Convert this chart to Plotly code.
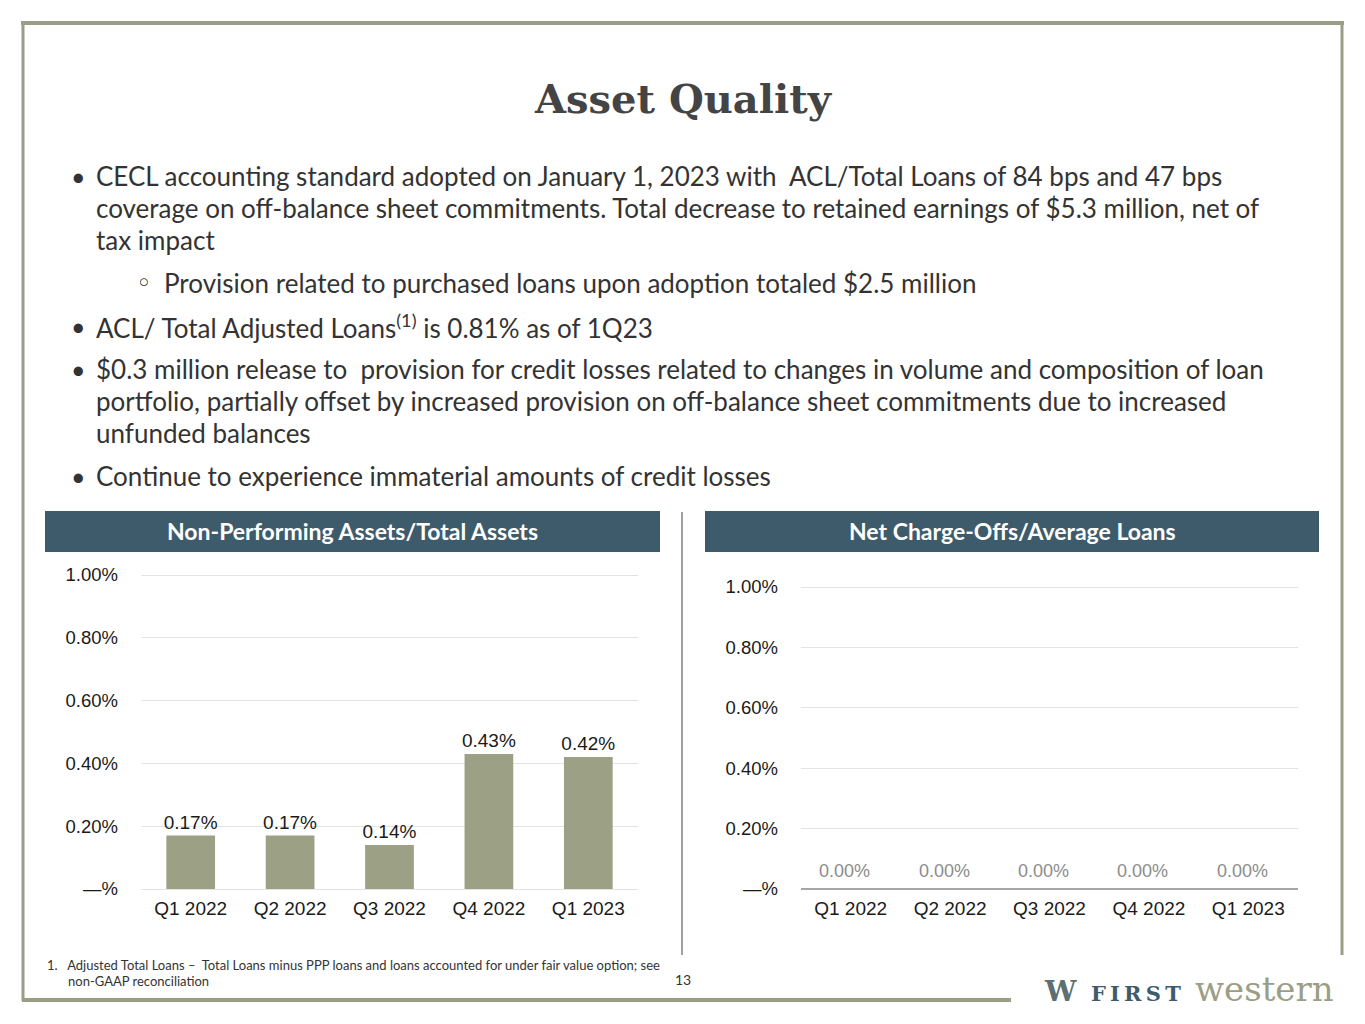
import plotly.graph_objects as go

# page size
W, H = 1365, 1024

categories = ["Q1 2022", "Q2 2022", "Q3 2022", "Q4 2022", "Q1 2023"]
npa_pct = [0.17, 0.17, 0.14, 0.43, 0.42]
nco_pct = [0.00, 0.00, 0.00, 0.00, 0.00]
y_ticks = [0, 0.2, 0.4, 0.6, 0.8, 1.0]
y_tick_text = ["—%", "0.20%", "0.40%", "0.60%", "0.80%", "1.00%"]

title = "Asset Quality"
left_header = "Non-Performing Assets/Total Assets"
right_header = "Net Charge-Offs/Average Loans"
bullet_lines = [
    ("•", "CECL accounting standard adopted on January 1, 2023 with  ACL/Total Loans of 84 bps and 47 bps"),
    ("", "coverage on off-balance sheet commitments. Total decrease to retained earnings of $5.3 million, net of"),
    ("", "tax impact"),
    ("◦", "Provision related to purchased loans upon adoption totaled $2.5 million"),
    ("•", "ACL/ Total Adjusted Loans<sup>(1)</sup> is 0.81% as of 1Q23"),
    ("•", "$0.3 million release to  provision for credit losses related to changes in volume and composition of loan"),
    ("", "portfolio, partially offset by increased provision on off-balance sheet commitments due to increased"),
    ("", "unfunded balances"),
    ("•", "Continue to experience immaterial amounts of credit losses"),
]
bullet_y = [176, 208, 240, 283, 326, 369, 401, 433, 476]
footnote_1 = "1.   Adjusted Total Loans –  Total Loans minus PPP loans and loans accounted for under fair value option; see"
footnote_2 = "non-GAAP reconciliation"
page_no = "13"

OLIVE = "#9b9e86"
SLATE = "#3e5b6c"
BAR = "#9ca085"
TEXT = "#333333"
Y_TOP = 1.02  # a little headroom so the 1.00% gridline shows


def px(x):
    return x / W


def py(y):
    return 1 - y / H


fig = go.Figure()

fig.add_trace(go.Bar(
    x=categories, y=npa_pct, marker_color=BAR, width=0.49,
    text=[f"{v:.2f}%" for v in npa_pct], textposition="outside", constraintext="none",
    textfont=dict(family="Liberation Sans", size=19, color="#1a1a1a"),
    cliponaxis=False, xaxis="x", yaxis="y", showlegend=False, hoverinfo="skip",
))
fig.add_trace(go.Bar(
    x=categories, y=nco_pct, marker_color=BAR, width=0.49,
    xaxis="x2", yaxis="y2", showlegend=False, hoverinfo="skip",
))

xfont = dict(family="Liberation Sans", size=19, color="#1a1a1a")
yfont = dict(family="Liberation Sans", size=18.5, color="#1a1a1a")
xcommon = dict(type="category", showgrid=False, showline=False, ticks="",
               tickfont=xfont, ticklabelstandoff=6, fixedrange=True, automargin=False)
ycommon = dict(range=[0, Y_TOP], tickvals=y_ticks, ticktext=y_tick_text,
               showgrid=True, gridcolor="#e3e3e3", gridwidth=1, showline=False,
               ticks="", tickfont=yfont, ticklabelstandoff=22, fixedrange=True, automargin=False)

# plot heights: left 0→1.00 spans 889→575, right 889→587
left_top = 889 - (889 - 575) * Y_TOP
right_top = 889 - (889 - 587) * Y_TOP

fig.update_layout(
    template="none",
    width=W, height=H,
    margin=dict(l=0, r=0, t=0, b=0, pad=0, autoexpand=False),
    paper_bgcolor="white", plot_bgcolor="white",
    xaxis=dict(domain=[px(141), px(638)], anchor="y", **xcommon),
    yaxis=dict(domain=[py(889), py(left_top)], anchor="x", zeroline=True,
               zerolinecolor="#e3e3e3", zerolinewidth=1, **ycommon),
    xaxis2=dict(domain=[px(801), px(1298)], anchor="y2", **xcommon),
    yaxis2=dict(domain=[py(889), py(right_top)], anchor="x2", zeroline=True,
                zerolinecolor="#a6a6a6", zerolinewidth=2, **ycommon),
)

shapes = []
# slide border
shapes.append(dict(type="line", xref="paper", yref="paper", x0=px(21), x1=px(1344),
                   y0=py(23), y1=py(23), line=dict(color=OLIVE, width=4)))
shapes.append(dict(type="line", xref="paper", yref="paper", x0=px(23), x1=px(23),
                   y0=py(22), y1=py(1001), line=dict(color=OLIVE, width=3)))
shapes.append(dict(type="line", xref="paper", yref="paper", x0=px(1342), x1=px(1342),
                   y0=py(22), y1=py(955), line=dict(color=OLIVE, width=3)))
shapes.append(dict(type="line", xref="paper", yref="paper", x0=px(22), x1=px(1011),
                   y0=py(1000), y1=py(1000), line=dict(color=OLIVE, width=4)))
# header bands
for x0, x1 in [(45, 660), (705, 1319)]:
    shapes.append(dict(type="rect", xref="paper", yref="paper", x0=px(x0), x1=px(x1),
                       y0=py(552), y1=py(511), fillcolor=SLATE, line=dict(width=0), layer="below"))
# divider
shapes.append(dict(type="line", xref="paper", yref="paper", x0=px(682), x1=px(682),
                   y0=py(512), y1=py(955), line=dict(color="#a0a0a0", width=2)))

annotations = []
annotations.append(dict(text=f"<b>{title}</b>", x=px(683), y=py(98), xref="paper", yref="paper",
                        showarrow=False, xanchor="center", yanchor="middle",
                        font=dict(family="DejaVu Serif", size=40, color="#444444")))
for (mark, line), yy in zip(bullet_lines, bullet_y):
    sub = mark == "◦"
    tx = 162 if sub else 94
    if mark:
        annotations.append(dict(text=mark, x=px(143 if sub else 78), y=py(yy), xref="paper", yref="paper",
                                showarrow=False, xanchor="center", yanchor="middle",
                                font=dict(family="DejaVu Sans" if sub else "Lato",
                                          size=26 if sub else 25, color=TEXT)))
    annotations.append(dict(text=line, x=px(tx), y=py(yy), xref="paper", yref="paper",
                            showarrow=False, xanchor="left", yanchor="middle",
                            font=dict(family="Lato", size=26, color=TEXT)))
for header, cx in [(left_header, 352), (right_header, 1012)]:
    annotations.append(dict(text=f"<b>{header}</b>", x=px(cx), y=py(531), xref="paper", yref="paper",
                            showarrow=False, xanchor="center", yanchor="middle",
                            font=dict(family="Lato", size=23, color="white")))
# zero labels on the charge-off chart
for c, v in zip(categories, nco_pct):
    annotations.append(dict(text=f"{v:.2f}%", x=c, y=v, xref="x2", yref="y2",
                            showarrow=False, xanchor="center", yanchor="bottom", yshift=6, xshift=-6,
                            font=dict(family="Liberation Sans Narrow, Liberation Sans", size=18, color="#8c8c8c")))
annotations.append(dict(text=footnote_1, x=px(45), y=py(965), xref="paper", yref="paper",
                        showarrow=False, xanchor="left", yanchor="middle",
                        font=dict(family="Lato", size=13, color=TEXT)))
annotations.append(dict(text=footnote_2, x=px(66), y=py(981), xref="paper", yref="paper",
                        showarrow=False, xanchor="left", yanchor="middle",
                        font=dict(family="Lato", size=13, color=TEXT)))
annotations.append(dict(text=page_no, x=px(683), y=py(979), xref="paper", yref="paper",
                        showarrow=False, xanchor="center", yanchor="middle",
                        font=dict(family="Lato", size=14, color=TEXT)))
# logo (text approximation)
annotations.append(dict(text="<b>W</b>", x=px(1060), y=py(991), xref="paper", yref="paper",
                        showarrow=False, xanchor="center", yanchor="middle",
                        font=dict(family="DejaVu Serif", size=28, color="#5d6f72")))
annotations.append(dict(text="<b>F\u2009I\u2009R\u2009S\u2009T</b>", x=px(1089), y=py(993), xref="paper", yref="paper",
                        showarrow=False, xanchor="left", yanchor="middle",
                        font=dict(family="DejaVu Serif", size=21, color=SLATE)))
annotations.append(dict(text="western", x=px(1193), y=py(989), xref="paper", yref="paper",
                        showarrow=False, xanchor="left", yanchor="middle",
                        font=dict(family="DejaVu Serif", size=34, color=OLIVE)))

fig.update_layout(shapes=shapes, annotations=annotations)

fig.write_html("out.html", config={"displayModeBar": False},
               post_script="document.body.style.margin='0';")
